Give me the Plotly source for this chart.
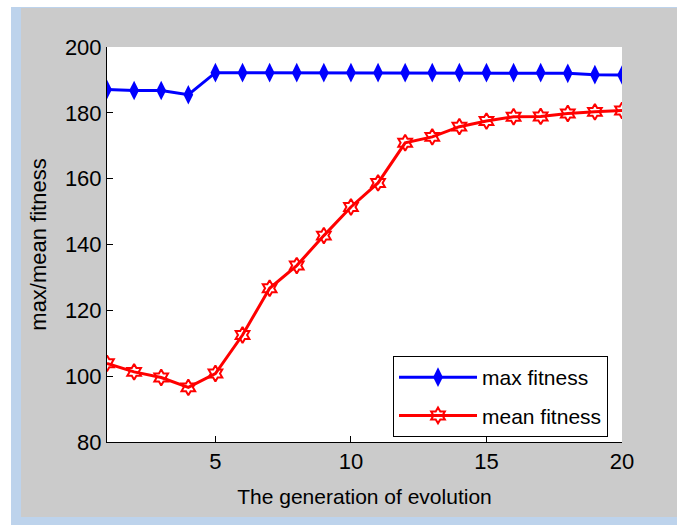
import plotly.graph_objects as go

generation = list(range(1, 21))
max_fitness = [187.1, 186.8, 186.8, 185.5, 192.2, 192.2, 192.2, 192.2, 192.2, 192.2,
               192.2, 192.2, 192.2, 192.2, 192.2, 192.2, 192.2, 192.0, 191.6, 191.5]
mean_fitness = [103.9, 101.3, 99.6, 96.6, 100.8, 112.5, 126.7, 133.6, 142.7, 151.4,
                158.7, 170.9, 172.7, 175.8, 177.5, 178.8, 178.9, 179.8, 180.3, 180.7]
x_ticks = [5, 10, 15, 20]
y_ticks = [80, 100, 120, 140, 160, 180, 200]

W, H = 677, 525
L, R, T, B = 107, 622, 47, 442


def px(x):
    return (x - L) / (R - L)


def py(y):
    return (B - y) / (B - T)


FONT = "Liberation Sans, Arial, sans-serif"

fig = go.Figure()
fig.add_trace(go.Scatter(
    x=generation, y=max_fitness, name="max fitness", mode="lines+markers",
    line=dict(color="#0000ff", width=3),
    marker=dict(symbol="diamond-tall", size=14, color="#0000ff"),
    legendgroup="a",
))
fig.add_trace(go.Scatter(
    x=generation, y=mean_fitness, name="mean fitness", mode="lines+markers",
    line=dict(color="#ff0000", width=3),
    marker=dict(symbol="hexagram-open", size=12, color="#ff0000",
                line=dict(color="#ff0000", width=2)),
    legendgroup="b",
))

shapes = [
    dict(type="rect", xref="paper", yref="paper", layer="below",
         x0=px(11), x1=px(W + 5), y0=py(H + 5), y1=py(7),
         fillcolor="#bdd3ec", line=dict(width=0)),
    dict(type="rect", xref="paper", yref="paper", layer="below",
         x0=px(21), x1=px(W + 5), y0=py(517), y1=py(8),
         fillcolor="#cbcbcb", line=dict(width=0)),
    dict(type="rect", xref="paper", yref="paper", layer="below",
         x0=0, x1=1, y0=0, y1=1,
         fillcolor="#ffffff", line=dict(width=0)),
]

fig.update_layout(
    width=W, height=H,
    margin=dict(l=L, r=W - R, t=T, b=H - B, pad=0),
    paper_bgcolor="#ffffff",
    plot_bgcolor="#ffffff",
    shapes=shapes,
    font=dict(family=FONT, size=21, color="#000000"),
    showlegend=True,
    legend=dict(
        x=px(608), y=py(437), xanchor="right", yanchor="bottom",
        bgcolor="#ffffff", bordercolor="#000000", borderwidth=1,
        font=dict(family=FONT, size=21, color="#000000"),
        traceorder="grouped", tracegroupgap=8, itemwidth=78,
    ),
    xaxis=dict(
        range=[1, 20], tickvals=x_ticks, ticks="inside", ticklen=6,
        tickcolor="#000000", showline=True, linecolor="#000000", linewidth=1,
        showgrid=False, zeroline=False,
        title=dict(text="The generation of evolution", font=dict(size=21), standoff=15),
        tickfont=dict(size=22),
    ),
    yaxis=dict(
        range=[80, 200], tickvals=y_ticks, ticks="inside", ticklen=6,
        tickcolor="#000000", showline=True, linecolor="#000000", linewidth=1,
        showgrid=False, zeroline=False,
        title=dict(text="max/mean fitness", font=dict(size=22), standoff=12),
        tickfont=dict(size=22),
    ),
)

fig.write_html(
    "out.html",
    config={"displayModeBar": False},
    post_script="document.body.style.margin='0';document.body.style.overflow='hidden';",
)
